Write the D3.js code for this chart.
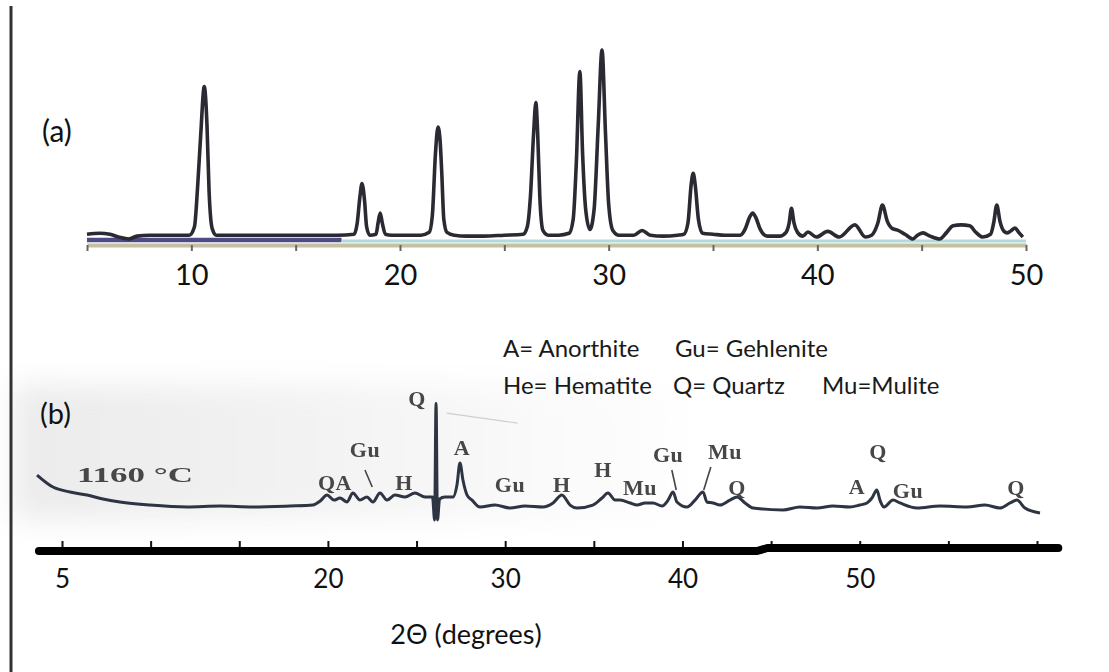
<!DOCTYPE html>
<html><head><meta charset="utf-8">
<script src="https://cdn.jsdelivr.net/npm/d3@7"></script>
<style>body{margin:0;background:#fff}svg{display:block}</style>
</head><body>
<svg id="c" width="1109" height="672"></svg>
<script>
// ---------- data ----------
const ticksA = [5,10,15,20,25,30,35,40,45,50];
const tickLabelsA = [10,20,30,40,50];
const ticksB = [5,10,15,20,25,30,35,40,45,50,55,60];
const tickLabelsB = [5,20,30,40,50];
const axisTitle = "2Θ (degrees)";
const panelLabels = ["(a)","(b)"];
const tempLabel = "1160 °C";
const legendRow1 = ["A= Anorthite","Gu= Gehlenite"];
const legendRow2 = ["He= Hematite","Q= Quartz","Mu=Mulite"];

// panel (a) trace: [2θ, intensity]
const traceA = [[5.0,2],[5.6,2.5],[6.1,2],[6.5,0.5],[7.0,-0.5],[7.4,1],[8.0,1.5],[9.0,1.5],[9.9,1.5],[10.15,6],[10.3,27],[10.45,55],[10.62,80.5],[10.75,60],[10.85,25],[11.0,5],[11.2,1.5],[12.5,1.5],[14,1.5],[15.5,1.5],[17.0,1.5],[17.8,2],[17.95,8],[18.08,22],[18.18,29],[18.3,20],[18.4,6],[18.55,1.5],[18.85,2],[18.95,8],[19.05,13.3],[19.15,8],[19.3,2],[19.6,1.5],[20.5,1.5],[21.0,1.5],[21.4,3],[21.55,12],[21.7,45],[21.82,59],[21.92,52],[22.0,35],[22.1,10],[22.25,3],[22.6,1.5],[23.2,1],[24.0,1],[25.0,1.5],[25.9,2],[26.1,6],[26.25,22],[26.4,55],[26.51,72],[26.6,55],[26.7,22],[26.85,4],[27.1,1.5],[27.6,1.5],[28.1,2.5],[28.3,10],[28.45,40],[28.62,88.5],[28.75,45],[28.9,15],[29.1,4.5],[29.3,15],[29.5,60],[29.68,100],[29.85,55],[30.0,18],[30.2,4],[30.5,1.5],[31.2,1.5],[31.6,4],[32.0,1.5],[32.6,1],[33.3,1.5],[33.6,2],[33.8,8],[33.95,28],[34.05,34.4],[34.15,28],[34.3,10],[34.5,2.5],[35.0,2],[35.6,1.5],[36.3,1.5],[36.55,5],[36.75,11],[36.9,13.3],[37.05,11],[37.25,5],[37.6,1],[38.2,1],[38.5,3],[38.65,8],[38.76,15.8],[38.88,8],[39.05,3],[39.3,1],[39.55,3.2],[39.95,0.5],[40.5,3.5],[41.05,0.5],[41.8,7],[42.3,0.5],[42.6,1.5],[42.9,8],[43.12,17.5],[43.35,9],[43.6,5],[43.81,4.3],[44.2,2],[44.58,-0.5],[44.8,1.5],[45.06,2.7],[45.4,1],[45.87,-0.5],[46.2,3],[46.5,6.5],[46.9,7],[47.3,6.5],[47.6,3],[47.93,0.5],[48.3,2],[48.45,8],[48.6,17.5],[48.75,9],[48.95,3.5],[49.1,2.7],[49.3,4],[49.47,5.3],[49.65,3],[49.85,0.5]];

// panel (b) trace: [2θ, intensity]
const traceB = [[3.59,31.8],[4.49,20.9],[5.45,16.4],[6.41,13.6],[7.31,10],[8.27,7.3],[9.96,4.5],[12.05,2.7],[13.91,3.6],[15.77,2.7],[17.86,3.6],[19.16,4.5],[19.55,8],[19.95,13.6],[20.34,9],[20.68,10.9],[21.08,7.3],[21.41,15.5],[21.81,9],[22.2,11.8],[22.54,7.3],[22.94,15.5],[23.33,9],[23.78,13.6],[24.35,11.8],[24.91,15.5],[25.48,11.8],[25.9,11.8],[26.02,-9],[26.1,97],[26.18,-9],[26.3,10],[26.6,11.8],[27.06,11.8],[27.28,22.7],[27.45,42.7],[27.62,27],[27.85,13.6],[28.13,9],[28.58,2.7],[29.43,4.5],[30.27,1.8],[31.12,3.6],[32.13,2.7],[32.7,6.4],[33.2,13.6],[33.66,4.5],[34.05,1.8],[34.95,4.5],[35.46,10.9],[35.8,15.5],[36.2,9],[36.48,9],[37.05,6.4],[37.44,4.5],[37.89,6.4],[38.34,6.4],[38.85,3.6],[39.19,9],[39.47,16.4],[39.69,7.3],[40.26,2.7],[40.71,9],[41.16,16.4],[41.38,7.3],[41.72,6.4],[42.12,4.5],[42.68,9],[43.08,11.8],[43.53,6.4],[43.98,1.8],[45.67,0],[46.63,2.7],[47.59,1.8],[48.49,3.6],[49.45,2.7],[50.0,4.5],[50.41,6.4],[50.69,10.9],[50.97,18.2],[51.14,9],[51.37,2.7],[51.88,9],[52.27,6.4],[53.23,1.8],[54.53,3.6],[56.05,2.7],[57.07,4.5],[57.91,1.8],[58.48,6.4],[58.87,9],[59.32,1.8],[60.17,-2.7]];

// phase labels of panel (b): text, 2θ, intensity level
const phaseText = ["Q","Gu","QA","H","A","Gu","H","H","Mu","Gu","Mu","Q","A","Q","Gu","Q"];
const phaseTheta = [25.03,22.09,20.4,24.3,27.56,30.27,33.2,35.52,37.6,39.19,42.4,43.08,49.85,51.03,52.72,58.82];
const phaseLevel = [94.5,48,18,18,50,16.4,16.4,30,13.6,43.6,46.4,13.6,14.5,46.4,10.9,13.6];
// leader lines [θ1, I1, θ2, I2]
const leaders = [[22.09,36.4,22.5,20.9],[39.4,36.4,39.65,18.2],[41.6,39,41.2,18.2]];

// ---------- drawing ----------
const svg = d3.select("#c");
svg.append("rect").attr("width",1109).attr("height",672).attr("fill","#fff");

const defs = svg.append("defs");
const g1 = defs.append("linearGradient").attr("id","scan").attr("x1","0").attr("x2","1").attr("y1","0").attr("y2","0");
g1.append("stop").attr("offset","0").attr("stop-color","#ebebeb");
g1.append("stop").attr("offset","0.5").attr("stop-color","#f4f4f4");
g1.append("stop").attr("offset","1").attr("stop-color","#ffffff");
defs.append("filter").attr("id","soft").append("feGaussianBlur").attr("stdDeviation",0.6);
defs.append("filter").attr("id","wash").attr("x","-20%").attr("y","-40%").attr("width","140%").attr("height","180%")
  .append("feGaussianBlur").attr("stdDeviation",14);

// scanned background of panel (b)
svg.append("rect").attr("x",14).attr("y",385).attr("width",700).attr("height",135)
  .attr("fill","url(#scan)").attr("filter","url(#wash)");

// left frame line
svg.append("line").attr("x1",11).attr("x2",11).attr("y1",6).attr("y2",672).attr("stroke","#333").attr("stroke-width",3);

// ----- panel (a)
const xA = d3.scaleLinear().domain([5,50]).range([87,1026]);
const yA = d3.scaleLinear().domain([0,100]).range([238,50]);

// coloured baseline bands
svg.append("line").attr("x1",xA(5)).attr("x2",xA(17.2)).attr("y1",yA(-1.1)).attr("y2",yA(-1.1))
  .attr("stroke","#4e4b86").attr("stroke-width",4.5);
svg.append("line").attr("x1",xA(17.2)).attr("x2",xA(50)).attr("y1",yA(-1.6)).attr("y2",yA(-1.6))
  .attr("stroke","#b3dada").attr("stroke-width",3);

const axA = svg.append("g").attr("transform","translate(0,245)")
  .call(d3.axisBottom(xA).tickValues(ticksA).tickSizeInner(6).tickSizeOuter(0).tickFormat(""));
axA.select(".domain").attr("stroke","#c6c0a2").attr("stroke-width",4);
axA.selectAll(".tick line").attr("stroke","#666").attr("stroke-width",2);

const axAL = svg.append("g").attr("transform","translate(0,245)")
  .call(d3.axisBottom(xA).tickValues(tickLabelsA).tickSize(0).tickFormat(d3.format("d")));
axAL.select(".domain").remove();
axAL.selectAll("text").attr("dy",0).attr("y",40)
  .attr("font-family","Lato, 'Open Sans', sans-serif").attr("font-size",29).attr("fill","#111");

const lineA = d3.line().x(d=>xA(d[0])).y(d=>yA(d[1])).curve(d3.curveMonotoneX);
svg.append("path").datum(traceA).attr("d",lineA).attr("fill","none")
  .attr("stroke","#2a2a33").attr("stroke-width",3.6).attr("stroke-linejoin","round");

svg.append("text").attr("x",42).attr("y",142).text(panelLabels[0])
  .attr("font-family","Lato, sans-serif").attr("font-size",30).attr("fill","#111");

// ----- legend
const legFont = "Lato, 'Open Sans', sans-serif";
const leg1x = [503,675];
const leg2x = [503,673,822];
legendRow1.forEach((t,i)=>svg.append("text").attr("x",leg1x[i]).attr("y",357).text(t)
  .attr("font-family",legFont).attr("font-size",24).attr("fill","#1a1a1a"));
legendRow2.forEach((t,i)=>svg.append("text").attr("x",leg2x[i]).attr("y",394).text(t)
  .attr("font-family",legFont).attr("font-size",24).attr("fill","#1a1a1a"));

// ----- panel (b)
const xB = d3.scaleLinear().domain([5,60]).range([62,1037]);
const yB = d3.scaleLinear().domain([0,100]).range([510,400]);

svg.append("text").attr("x",40).attr("y",424).text(panelLabels[1])
  .attr("font-family","Lato, sans-serif").attr("font-size",29).attr("fill","#111");

const lineB = d3.line().x(d=>xB(d[0])).y(d=>yB(d[1])).curve(d3.curveMonotoneX);
const gB = svg.append("g").attr("filter","url(#soft)");
gB.append("path").datum(traceB).attr("d",lineB).attr("fill","none")
  .attr("stroke","#2d3442").attr("stroke-width",3).attr("stroke-linejoin","round");

// faint leader from the Q spike
gB.append("line").attr("x1",xB(26.7)).attr("y1",yB(88)).attr("x2",xB(30.7)).attr("y2",yB(79))
  .attr("stroke","#cfcfcf").attr("stroke-width",1.2);
leaders.forEach(l=>gB.append("line").attr("x1",xB(l[0])).attr("y1",yB(l[1])).attr("x2",xB(l[2])).attr("y2",yB(l[3]))
  .attr("stroke","#444").attr("stroke-width",1.6));

gB.append("text").attr("x",xB(5.85)).attr("y",yB(25.5)).text(tempLabel)
  .attr("textLength",116).attr("lengthAdjust","spacingAndGlyphs")
  .attr("font-family","'Liberation Serif', serif").attr("font-weight","bold").attr("font-size",21).attr("fill","#474747");

phaseText.forEach((t,i)=>gB.append("text").attr("x",xB(phaseTheta[i])).attr("y",yB(phaseLevel[i]))
  .attr("text-anchor","middle").text(t)
  .attr("font-family","'Liberation Serif', serif").attr("font-weight","bold").attr("font-size",22)
  .attr("letter-spacing",0.5).attr("fill","#474747"));

// bottom thick axis
const axB = svg.append("g").attr("transform","translate(0,551)")
  .call(d3.axisBottom(xB).tickValues(ticksB).tickSizeInner(-10).tickSizeOuter(0).tickFormat(""));
axB.select(".domain").remove();
axB.selectAll(".tick line").attr("stroke","#111").attr("stroke-width",2);
svg.append("path")
  .attr("d",`M${xB(3.7)},551 H${xB(44.2)} L${xB(44.8)},548 H${xB(61.2)}`)
  .attr("fill","none").attr("stroke","#000").attr("stroke-width",8).attr("stroke-linecap","round");

const axBL = svg.append("g").attr("transform","translate(0,551)")
  .call(d3.axisBottom(xB).tickValues(tickLabelsB).tickSize(0).tickFormat(d3.format("d")));
axBL.select(".domain").remove();
axBL.selectAll("text").attr("dy",0).attr("y",37)
  .attr("font-family","Lato, sans-serif").attr("font-size",26).attr("fill","#111");

svg.append("text").attr("x",466).attr("y",644).attr("text-anchor","middle").text(axisTitle)
  .attr("font-family","Lato, sans-serif").attr("font-size",27).attr("fill","#111");
</script>
</body></html>
